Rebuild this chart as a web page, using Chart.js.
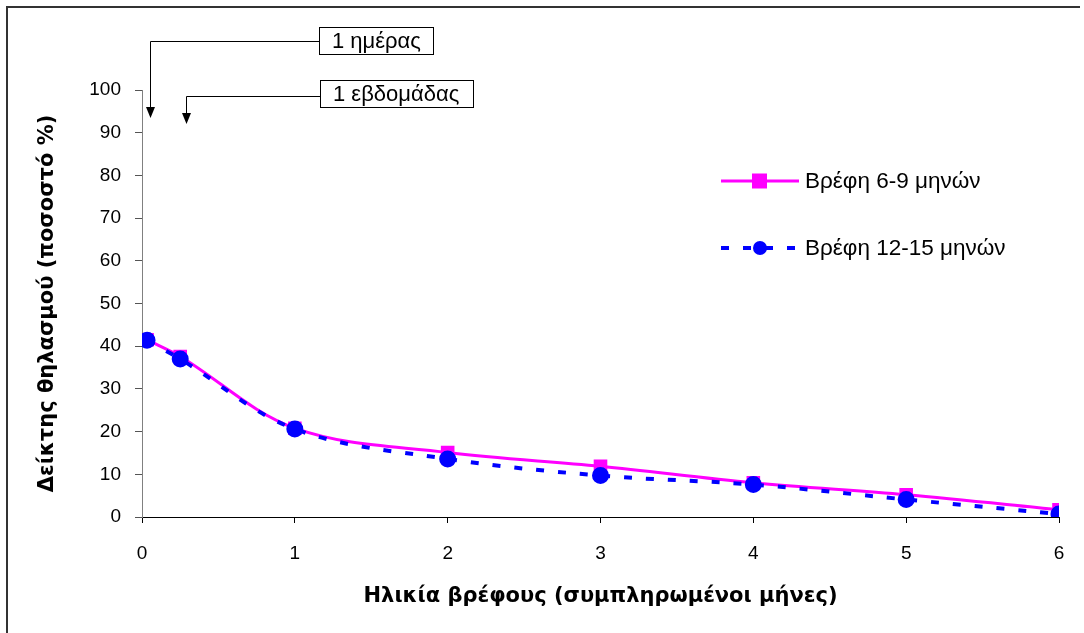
<!DOCTYPE html>
<html>
<head>
<meta charset="utf-8">
<script src="https://cdn.jsdelivr.net/npm/chart.js@4/dist/chart.umd.min.js"></script>
<style>
  html, body { margin: 0; padding: 0; background: #fff; }
  #wrap { width: 1084px; height: 633px; position: relative; }
</style>
</head>
<body>
<div id="wrap"><canvas id="chart" width="1084" height="633"></canvas></div>
<script>
// Ηλικία σε μήνες (1 ημέρα, 1 εβδομάδα, 1..6 μήνες)
const ageMonths = [0.033, 0.25, 1, 2, 3, 4, 5, 6];
const infants6to9 = [41.5, 37.6, 20.8, 15.1, 11.9, 8.0, 5.2, 1.7];
const infants12to15 = [41.4, 37.0, 20.6, 13.6, 9.7, 7.6, 4.1, 0.7];
const seriesNames = ["Βρέφη 6-9 μηνών", "Βρέφη 12-15 μηνών"];
const annotationTexts = ["1 ημέρας", "1 εβδομάδας"];
const annotationAges = [0.05, 0.29];

const FONT = "'Liberation Sans', Arial, sans-serif";
const TITLE_FONT = "'DejaVu Sans', Verdana, sans-serif";

// Πλαίσιο, βέλη και υπόμνημα
const decorPlugin = {
  id: "decor",
  afterDraw(chart) {
    const ctx = chart.ctx;
    const x = chart.scales.x;
    ctx.save();

    // περίγραμμα (αριστερά και πάνω)
    ctx.strokeStyle = "#333";
    ctx.lineWidth = 2;
    ctx.beginPath();
    ctx.moveTo(7, 633);
    ctx.lineTo(7, 7);
    ctx.lineTo(1080, 7);
    ctx.stroke();

    // πλαίσια κειμένου με βέλη
    const boxes = [
      { left: 319, top: 27, w: 114, h: 27, lineY: 41, tipY: 118 },
      { left: 320, top: 80, w: 153, h: 27, lineY: 96, tipY: 124 },
    ];
    ctx.font = "22px " + FONT;
    ctx.textBaseline = "middle";
    ctx.textAlign = "left";
    boxes.forEach((b, i) => {
      ctx.fillStyle = "#fff";
      ctx.fillRect(b.left, b.top, b.w, b.h);
      ctx.strokeStyle = "#000";
      ctx.lineWidth = 1;
      ctx.strokeRect(b.left + 0.5, b.top + 0.5, b.w, b.h);
      ctx.fillStyle = "#000";
      ctx.fillText(annotationTexts[i], b.left + 13, b.top + b.h / 2 + 1);

      const ax = Math.round(x.getPixelForValue(annotationAges[i])) + 0.5;
      ctx.beginPath();
      ctx.moveTo(b.left, b.lineY + 0.5);
      ctx.lineTo(ax, b.lineY + 0.5);
      ctx.lineTo(ax, b.tipY - 8);
      ctx.stroke();
      ctx.beginPath();
      ctx.moveTo(ax - 4.5, b.tipY - 11);
      ctx.lineTo(ax + 4.5, b.tipY - 11);
      ctx.lineTo(ax, b.tipY);
      ctx.closePath();
      ctx.fill();
    });

    // υπόμνημα
    const legendRows = [181, 248];
    chart.data.datasets.forEach((ds, i) => {
      const y = legendRows[i];
      ctx.strokeStyle = ds.borderColor;
      ctx.lineWidth = ds.borderWidth;
      ctx.setLineDash(ds.borderDash || []);
      ctx.beginPath();
      ctx.moveTo(721, y);
      ctx.lineTo(799, y);
      ctx.stroke();
      ctx.setLineDash([]);
      ctx.fillStyle = ds.pointBackgroundColor;
      if (ds.pointStyle === "rect") {
        ctx.fillRect(752, y - 7.5, 15, 15);
      } else {
        ctx.beginPath();
        ctx.arc(760, y, 7, 0, Math.PI * 2);
        ctx.fill();
      }
      ctx.fillStyle = "#000";
      ctx.font = "22.5px " + FONT;
      ctx.textBaseline = "middle";
      ctx.fillText(seriesNames[i], 805, y + 1);
    });
    ctx.restore();
  },
};

new Chart(document.getElementById("chart"), {
  type: "line",
  data: {
    datasets: [
      {
        label: seriesNames[0],
        data: ageMonths.map((a, i) => ({ x: a, y: infants6to9[i] })),
        borderColor: "#FF00FF",
        backgroundColor: "#FF00FF",
        pointBackgroundColor: "#FF00FF",
        pointBorderColor: "#FF00FF",
        pointStyle: "rect",
        pointRadius: 7.5,
        borderWidth: 3,
        tension: 0.35,
        order: 2,
      },
      {
        label: seriesNames[1],
        data: ageMonths.map((a, i) => ({ x: a, y: infants12to15[i] })),
        borderColor: "#0000FF",
        backgroundColor: "#0000FF",
        pointBackgroundColor: "#0000FF",
        pointBorderColor: "#0000FF",
        pointStyle: "circle",
        pointRadius: 6.5,
        borderWidth: 4,
        borderDash: [8, 14],
        tension: 0.35,
        order: 1,
      },
    ],
  },
  options: {
    responsive: false,
    animation: false,
    layout: { padding: { top: 90, right: 25, bottom: 0, left: 0 } },
    plugins: {
      legend: { display: false },
      tooltip: { enabled: false },
    },
    scales: {
      x: {
        type: "linear",
        min: 0,
        max: 6,
        afterFit: (s) => { s.height = 116; },
        border: { color: "#000", width: 1 },
        grid: { drawOnChartArea: false, drawTicks: true, tickLength: 6, color: "#000" },
        ticks: { stepSize: 1, padding: 19, color: "#000", font: { family: FONT, size: 19 } },
        title: {
          display: true,
          text: "Ηλικία βρέφους (συμπληρωμένοι μήνες)",
          color: "#000",
          font: { family: TITLE_FONT, size: 21, weight: "bold" },
          padding: { top: 4, bottom: 24 },
        },
      },
      y: {
        min: 0,
        max: 100,
        afterFit: (s) => { s.width = 142; },
        border: { color: "#808080", width: 1 },
        grid: { drawOnChartArea: false, drawTicks: true, tickLength: 7, color: "#555" },
        ticks: { stepSize: 10, padding: 14, color: "#000", font: { family: FONT, size: 19 } },
        title: {
          display: true,
          text: "Δείκτης θηλασμού (ποσοστό %)",
          color: "#000",
          font: { family: TITLE_FONT, size: 21, weight: "bold" },
          padding: { top: 35, bottom: 0 },
        },
      },
    },
  },
  plugins: [decorPlugin],
});
</script>
</body>
</html>
